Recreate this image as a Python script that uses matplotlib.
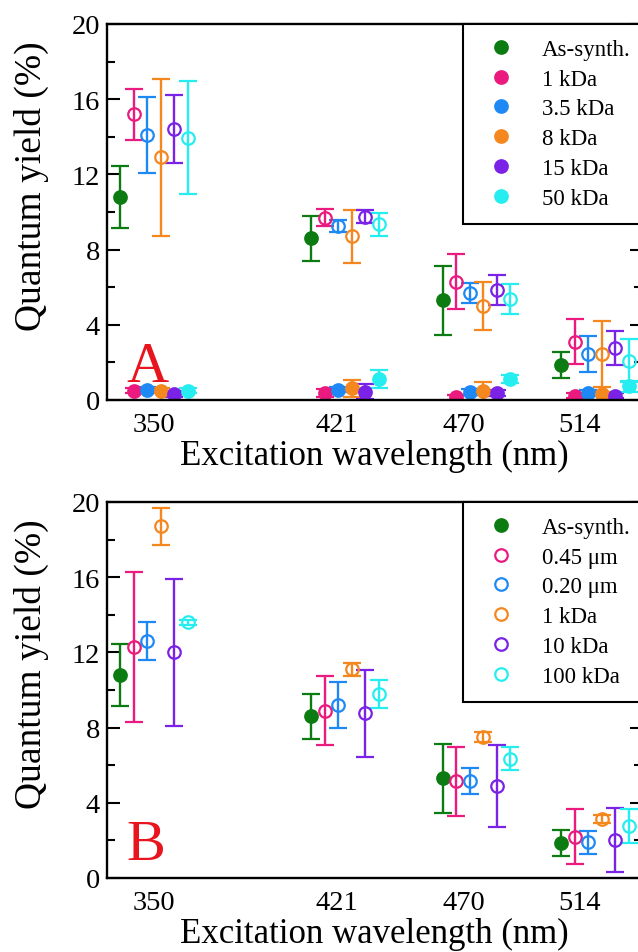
import matplotlib
matplotlib.use('Agg')
import matplotlib.pyplot as plt
import numpy as np

plt.rcParams['font.family'] = ['Liberation Serif', 'DejaVu Serif']

# excitation wavelengths (nm) and where the tick labels sit in the original
wavelengths = [350, 421, 470, 514]
tick_pos = [350, 418, 465.2, 508.3]
tick_labels = ['350', '421', '470', '514']

# as-synthesized sample (same in both panels)
as_synth = [10.8, 8.6, 5.3, 1.85]
as_synth_err = [1.65, 1.2, 1.85, 0.7]

# panel A: open circles (high values) and filled circles (near zero)
labels_a = ['1 kDa', '3.5 kDa', '8 kDa', '15 kDa', '50 kDa']
open_a = [
    [15.2, 9.7, 6.3, 3.1],
    [14.1, 9.25, 5.7, 2.45],
    [12.9, 8.7, 5.0, 2.45],
    [14.4, 9.75, 5.85, 2.75],
    [13.95, 9.35, 5.35, 2.1],
]
open_a_err = [
    [1.35, 0.45, 1.45, 1.2],
    [2.0, 0.33, 0.55, 0.95],
    [4.2, 1.4, 1.3, 1.75],
    [1.8, 0.35, 0.8, 0.9],
    [3.0, 0.6, 0.8, 1.15],
]
filled_a = [
    [0.5, 0.37, 0.14, 0.23],
    [0.55, 0.55, 0.44, 0.37],
    [0.5, 0.62, 0.46, 0.32],
    [0.32, 0.44, 0.37, 0.23],
    [0.5, 1.12, 1.12, 0.72],
]
filled_a_err = [
    [0.15, 0.2, 0.15, 0.15],
    [0.15, 0.15, 0.15, 0.15],
    [0.15, 0.45, 0.5, 0.12],
    [0.15, 0.4, 0.15, 0.15],
    [0.15, 0.5, 0.22, 0.3],
]

# panel B
labels_b = ['0.45 \u03bcm', '0.20 \u03bcm', '1 kDa', '10 kDa', '100 kDa']
open_b = [
    [12.3, 8.9, 5.15, 2.2],
    [12.6, 9.2, 5.15, 1.9],
    [18.7, 11.1, 7.5, 3.15],
    [12.0, 8.76, 4.9, 2.0],
    [13.6, 9.8, 6.35, 2.75],
]
open_b_err = [
    [4.0, 1.85, 1.83, 1.45],
    [1.0, 1.2, 0.7, 0.6],
    [1.0, 0.35, 0.28, 0.2],
    [3.9, 2.3, 2.2, 1.7],
    [0.15, 0.75, 0.6, 0.9],
]

green = '#0b7b12'
colors = ['#ea1a7f', '#1e88f5', '#f5871f', '#7a22e6', '#26eef0']

dodge = 5.0
eb_kw = dict(capsize=6.5, elinewidth=1.7, capthick=1.7, markersize=9, ls='none', mew=1.6)

fig = plt.figure(figsize=(6.38, 9.53), dpi=100)
axA = fig.add_axes([107 / 638, 1 - 401 / 953, 535 / 638, 376 / 953])
axB = fig.add_axes([107 / 638, 1 - 879 / 953, 535 / 638, 376 / 953])


def style_axes(ax, letter):
    ax.set_xlim(332.5, 531.5)
    ax.set_ylim(0, 20)
    ax.set_xticks(tick_pos)
    ax.set_xticklabels(tick_labels)
    ax.set_yticks(np.arange(0, 21, 4))
    ax.set_yticks(np.arange(2, 20, 4), minor=True)
    ax.tick_params(axis='x', length=0, labelsize=20.5, pad=9)
    ax.tick_params(axis='y', which='both', direction='in', left=True, right=True,
                   labelsize=20.5, pad=5, width=1.5)
    ax.tick_params(axis='y', which='major', length=9)
    ax.tick_params(axis='y', which='minor', length=6)
    for s in ax.spines.values():
        s.set_linewidth(1.7)
    ax.set_xlabel('Excitation wavelength (nm)', fontsize=25, labelpad=1)
    ax.set_ylabel('Quantum yield (%)', fontsize=27)
    ax.yaxis.set_label_coords(-0.108, 0.57)
    ax.text(0.037, 0.05, letter, transform=ax.transAxes, color='#e8141e',
            fontsize=42, ha='left', va='baseline')


def legend(ax, handles, labels):
    leg = ax.legend(handles, labels, loc='upper left', bbox_to_anchor=(0.665, 1.0),
                    borderaxespad=0, fontsize=16.5, frameon=True, fancybox=False,
                    framealpha=1, edgecolor='black', borderpad=0.65,
                    handlelength=2.0, handletextpad=0.8, labelspacing=0.38,
                    numpoints=1)
    leg.get_frame().set_linewidth(1.5)


# panel A
x0 = np.array(wavelengths) - 2.5 * dodge
g = axA.errorbar(x0, as_synth, yerr=as_synth_err, marker='o', color=green, **eb_kw)
handles = [g[0]]
for i in range(5):
    x = np.array(wavelengths) + (i - 1.5) * dodge
    axA.errorbar(x, open_a[i], yerr=open_a_err[i], marker='o', color=colors[i],
                 mfc='none', **eb_kw)
    f = axA.errorbar(x, filled_a[i], yerr=filled_a_err[i], marker='o', color=colors[i],
                     **eb_kw)
    handles.append(f[0])
style_axes(axA, 'A')
legend(axA, handles, ['As-synth.'] + labels_a)

# panel B
g = axB.errorbar(x0, as_synth, yerr=as_synth_err, marker='o', color=green, **eb_kw)
handles = [g[0]]
for i in range(5):
    x = np.array(wavelengths) + (i - 1.5) * dodge
    o = axB.errorbar(x, open_b[i], yerr=open_b_err[i], marker='o', color=colors[i],
                     mfc='none', **eb_kw)
    handles.append(o[0])
style_axes(axB, 'B')
legend(axB, handles, ['As-synth.'] + labels_b)

fig.savefig('out.png', dpi=100)
